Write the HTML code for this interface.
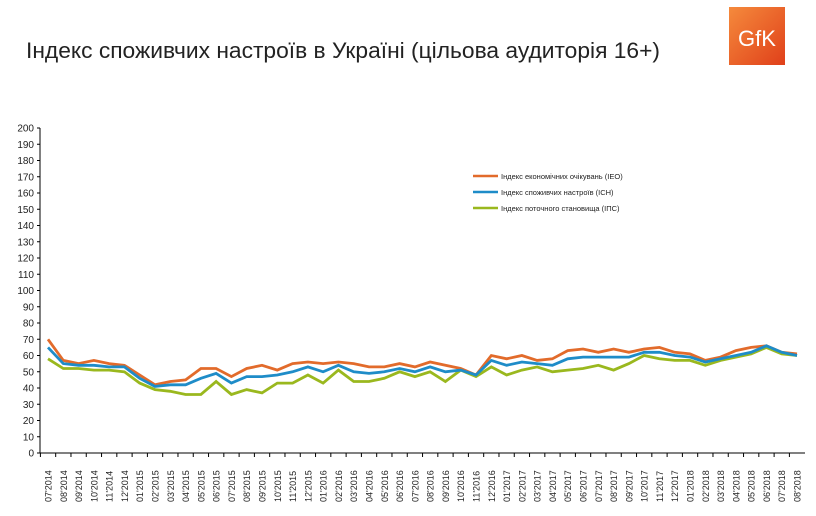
<!DOCTYPE html>
<html><head><meta charset="utf-8"><style>
body{margin:0;background:#fff;width:816px;height:511px;overflow:hidden;font-family:"Liberation Sans",sans-serif}
</style></head><body>
<svg width="816" height="511" xmlns="http://www.w3.org/2000/svg" font-family="Liberation Sans, sans-serif">
<defs><linearGradient id="g" x1="0" y1="0" x2="1" y2="1"><stop offset="0" stop-color="#f58a3c"/><stop offset="1" stop-color="#e0401a"/></linearGradient></defs>
<rect x="729" y="7" width="56" height="58" fill="url(#g)"/>
<text x="757" y="46" font-size="22" fill="#fff" text-anchor="middle">GfK</text>
<text x="26" y="58" font-size="22" fill="#222" textLength="634" lengthAdjust="spacingAndGlyphs">Індекс споживчих настроїв в Україні (цільова аудиторія 16+)</text>
<g id="ax"></g>
<line x1="40" y1="128" x2="40" y2="453" stroke="#000" stroke-width="1"/>
<line x1="40" y1="453" x2="805" y2="453" stroke="#000" stroke-width="1"/>
<g id="yl" font-size="10" fill="#222" text-anchor="end"></g>
<g id="xl" font-size="9" fill="#222"></g>
<g id="ln"></g>
<line x1="473" y1="176" x2="498" y2="176" stroke="#e26b2b" stroke-width="2.5"/>
<line x1="473" y1="192" x2="498" y2="192" stroke="#1e8cc8" stroke-width="2.5"/>
<line x1="473" y1="208" x2="498" y2="208" stroke="#9ab81e" stroke-width="2.5"/>
<text x="501" y="179" font-size="7.5" fill="#222">Індекс економічних очікувань (ІЕО)</text>
<text x="501" y="195" font-size="7.5" fill="#222">Індекс споживчих настроїв (ІСН)</text>
<text x="501" y="211" font-size="7.5" fill="#222">Індекс поточного становища (ІПС)</text>
</svg>
<script>
const ns="http://www.w3.org/2000/svg";
const Y=v=>453-v*1.625, X=i=>48+i*(749/49);
let yl=document.getElementById('yl'),ax=document.getElementById('ax'),xl=document.getElementById('xl'),ln=document.getElementById('ln');
for(let v=0;v<=200;v+=10){let t=document.createElementNS(ns,'text');t.setAttribute('x',34);t.setAttribute('y',Y(v)+3.5);t.textContent=v;yl.appendChild(t);
let l=document.createElementNS(ns,'line');l.setAttribute('x1',37);l.setAttribute('x2',40);l.setAttribute('y1',Y(v));l.setAttribute('y2',Y(v));l.setAttribute('stroke','#000');ax.appendChild(l);}
const lab=[];for(let i=0;i<50;i++){let m=(6+i)%12+1,y=2014+Math.floor((6+i)/12);lab.push(String(m).padStart(2,'0')+"'"+y);}
lab.forEach((s,i)=>{let x=X(i);let l=document.createElementNS(ns,'line');l.setAttribute('x1',x-7.6);l.setAttribute('x2',x-7.6);l.setAttribute('y1',453);l.setAttribute('y2',457);l.setAttribute('stroke','#000');ax.appendChild(l);
let t=document.createElementNS(ns,'text');t.setAttribute('transform',`translate(${x+3.5},502) rotate(-90)`);t.textContent=s;xl.appendChild(t);});
const d=[["#e26b2b",[70,57,55,57,55,54,48,42,44,45,52,52,47,52,54,51,55,56,55,56,55,53,53,55,53,56,54,52,48,60,58,60,57,58,63,64,62,64,62,64,65,62,61,57,59,63,65,66,62,61]],
["#9ab81e",[58,52,52,51,51,50,43,39,38,36,36,44,36,39,37,43,43,48,43,51,44,44,46,50,47,50,44,51,47,53,48,51,53,50,51,52,54,51,55,60,58,57,57,54,57,59,61,65,61,60]],
["#1e8cc8",[65,55,54,54,53,53,46,41,42,42,46,49,43,47,47,48,50,53,50,54,50,49,50,52,50,53,50,51,48,57,54,56,55,54,58,59,59,59,59,62,62,60,59,56,58,60,62,66,62,60]]];
d.forEach(([c,a])=>{let p=document.createElementNS(ns,'polyline');p.setAttribute('points',a.map((v,i)=>X(i).toFixed(1)+','+Y(v).toFixed(1)).join(' '));p.setAttribute('fill','none');p.setAttribute('stroke',c);p.setAttribute('stroke-width','2.8');ln.appendChild(p);});
</script>
</body></html>
